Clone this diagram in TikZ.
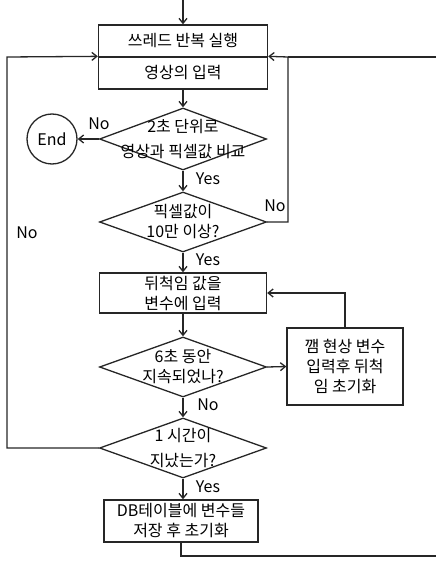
\documentclass[tikz,border=0pt]{standalone}
\usepackage{fontspec}
\setmainfont{Noto Sans CJK KR}
\usetikzlibrary{arrows.meta, shapes.geometric}

\begin{document}
\begin{tikzpicture}[x=1pt, y=-1pt,
    every node/.style={font=\fontsize{16}{20}\selectfont},
    flowline/.style={line width=1.3pt, draw=black!85},
    arr/.style={flowline, -{Straight Barb[length=5pt, width=8pt]}},
    procbox/.style={rectangle, flowline, align=center, inner sep=0pt},
    decision/.style={diamond, flowline, inner sep=0pt, minimum width=167pt, minimum height=60pt}]

    \useasboundingbox (0,0) rectangle (436,564);

    % thread loop box
    \node[procbox, minimum width=169pt, minimum height=32pt] (thread) at (183,41) {쓰레드 반복 실행};
    \node[procbox, minimum width=169pt, minimum height=32pt] (input) at (183,73) {영상의 입력};

    % End circle
    \node[circle, flowline, minimum size=50pt, inner sep=0pt] (stop) at (52,139) {End};

    % decisions and steps
    \node[decision, minimum height=62pt, label={[align=center]center:{2초 단위로\\[5pt]영상과 픽셀값 비교}}] (cmp) at (183,139) {};
    \node[decision, label={[align=center]center:{픽셀값이\\10만 이상?}}] (pixel) at (183,222) {};
    \node[procbox, minimum width=167pt, minimum height=40pt] (move) at (183,293) {뒤척임 값을\\변수에 입력};
    \node[decision, label={[align=center]center:{6초 동안\\지속되었나?}}] (six) at (183,367) {};
    \node[procbox, minimum width=116pt, minimum height=77pt] (reset) at (345,366.5) {깸 현상 변수\\입력후 뒤척\\임 초기화};
    \node[decision, label={[align=center]center:{1 시간이\\[5pt]지났는가?}}] (hour) at (183,448) {};
    \node[procbox, minimum width=154pt, minimum height=42pt] (save) at (181,521) {DB테이블에 변수들\\저장 후 초기화};

    % loose ends
    \coordinate (start) at (183,0);
    \coordinate (ljoin) at (7,57);
    \coordinate (rjoin) at (288,57);
    \coordinate (etop) at (436,57);
    \coordinate (ebot) at (436,556);

    % connectors
    \draw[arr] (start) -- (thread.north);
    \draw[arr] (input.south) -- (cmp.north);
    \draw[arr] (cmp.west) -- (stop.east);
    \draw[arr] (cmp.south) -- (pixel.north);
    \draw[arr] (pixel.east) -| (rjoin) -- (input.north east);
    \draw[flowline] (etop) -- (rjoin);
    \draw[arr] (pixel.south) -- (move.north);
    \draw[arr] (move.south) -- (six.north);
    \draw[arr] (six.east) -- (reset.west);
    \draw[arr] (reset.north) |- (move.east);
    \draw[arr] (six.south) -- (hour.north);
    \draw[arr] (hour.west) -| (ljoin) -- (input.north west);
    \draw[arr] (hour.south) -- (hour.south |- save.north);
    \draw[flowline] (save.south) |- (ebot);

    % branch labels
    \node at (99,124) {No};
    \node at (208,179) {Yes};
    \node at (275,206) {No};
    \node at (208,260) {Yes};
    \node at (27,233) {No};
    \node at (208,405) {No};
    \node at (208,487) {Yes};

\end{tikzpicture}
\end{document}
